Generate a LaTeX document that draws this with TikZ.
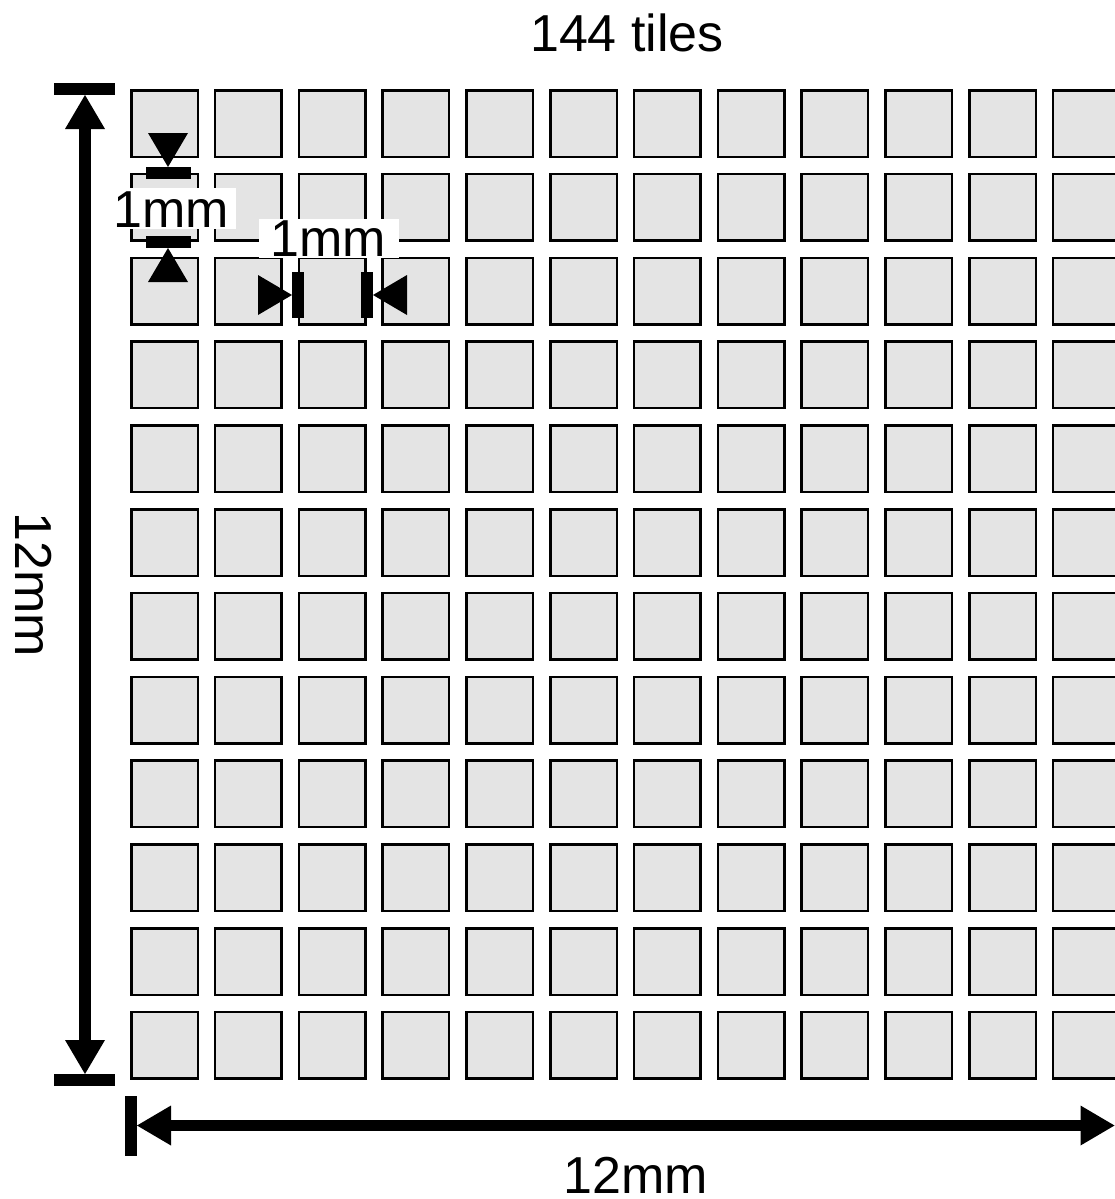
\documentclass[tikz,border=0pt]{standalone}
\usepackage{fontspec}
\setmainfont{Liberation Sans}
\usetikzlibrary{arrows.meta}
\definecolor{tilegrey}{HTML}{E4E4E4}
\tikzset{
  tile/.style={draw=black, fill=tilegrey, line width=2.5pt, rectangle, inner sep=0pt,
    minimum width=66.5pt, minimum height=66.5pt},
  lbl/.style={font=\fontsize{52}{60}\selectfont, inner sep=0pt, text height=37.2pt, text depth=0pt},
  dimlabel/.style={lbl, fill=white},
  bigarrow/.style={line width=11.5pt,
    {Triangle[length=34pt,width=40pt,line width=0pt]}-{Triangle[length=34pt,width=40pt,line width=0pt]}},
  endbar/.style={line width=12pt},
  tinytip/.style={line width=0.5pt, -{Triangle[length=34pt,width=40pt,line width=0pt]}},
}
\begin{document}
\begin{tikzpicture}[x=1pt,y=-1pt]
\useasboundingbox (0,0) rectangle (1115,1199);
% tiles
\foreach \i in {0,...,11}{
  \foreach \j in {0,...,11}{
    \node[tile] (t-\i-\j) at ({164.5+83.8*\i},{123.5+83.8*\j}) {};
  }
}
% titles
\node[lbl] (title) at (627,32.5) {144 tiles};
\node[lbl] (hlabel) at (636,1174.5) {12mm};
\node[lbl, rotate=-90] (vlabel) at (34,584.5) {12mm};
% small dimension labels
\node[dimlabel, minimum width=130pt, minimum height=41pt] (d1) at (171,208.5) {1mm};
\node[dimlabel, minimum width=140pt, minimum height=39pt] (d2) at (328.5,238) {1mm};
% big vertical dimension
\coordinate (vtopL) at (54,89);  \coordinate (vtopR) at (115,89);
\coordinate (vbotL) at (54,1080); \coordinate (vbotR) at (115,1080);
\coordinate (vtip1) at (85,95);  \coordinate (vtip2) at (85,1074);
\draw[endbar] (vtopL) -- (vtopR);
\draw[endbar] (vbotL) -- (vbotR);
\draw[bigarrow] (vtip1) -- (vtip2);
% big horizontal dimension
\coordinate (hlT) at (130.5,1096); \coordinate (hlB) at (130.5,1156);
\coordinate (hrT) at (1121,1096);  \coordinate (hrB) at (1121,1156);
\coordinate (htip1) at (137,1125.5); \coordinate (htip2) at (1114.5,1125.5);
\draw[endbar] (hlT) -- (hlB);
\draw[endbar] (hrT) -- (hrB);
\draw[bigarrow] (htip1) -- (htip2);
% small vertical 1mm
\coordinate (sv1L) at (146,173); \coordinate (sv1R) at (191,173);
\coordinate (sv2L) at (146,242); \coordinate (sv2R) at (191,242);
\coordinate (sva) at (168,133); \coordinate (svat) at (168,167);
\coordinate (svb) at (168,282); \coordinate (svbt) at (168,248);
\draw[endbar] (sv1L) -- (sv1R);
\draw[endbar] (sv2L) -- (sv2R);
\draw[tinytip] (sva) -- (svat);
\draw[tinytip] (svb) -- (svbt);
% small horizontal 1mm
\coordinate (sh1T) at (298,272); \coordinate (sh1B) at (298,318);
\coordinate (sh2T) at (367,272); \coordinate (sh2B) at (367,318);
\coordinate (sha) at (258,295); \coordinate (shat) at (292,295);
\coordinate (shb) at (407,295); \coordinate (shbt) at (373,295);
\draw[endbar] (sh1T) -- (sh1B);
\draw[endbar] (sh2T) -- (sh2B);
\draw[tinytip] (sha) -- (shat);
\draw[tinytip] (shb) -- (shbt);
\end{tikzpicture}
\end{document}
